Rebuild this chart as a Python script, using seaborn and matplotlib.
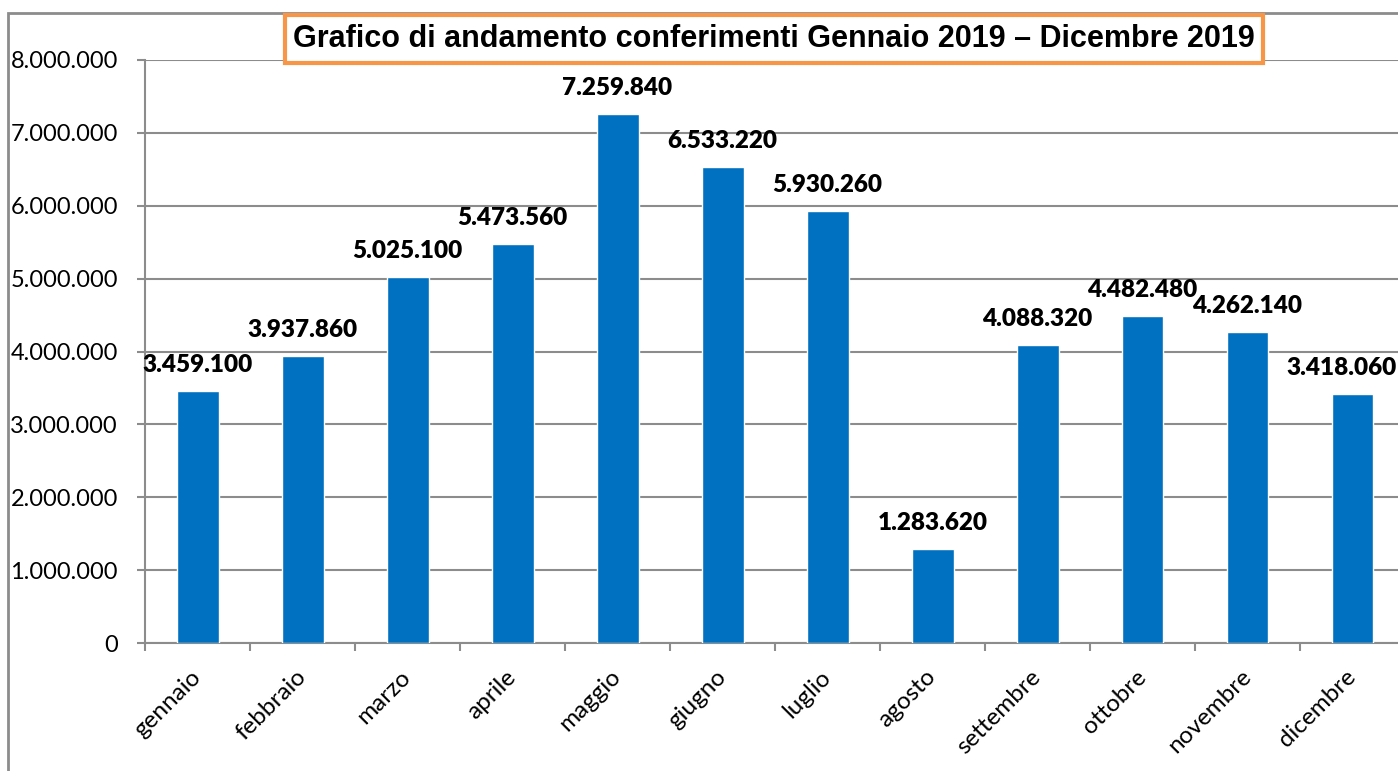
import matplotlib
matplotlib.use("Agg")
import matplotlib.pyplot as plt
import seaborn as sns
import pandas as pd
from matplotlib.patches import Rectangle
from matplotlib.ticker import FuncFormatter, FixedLocator

months = ["gennaio", "febbraio", "marzo", "aprile", "maggio", "giugno", "luglio",
          "agosto", "settembre", "ottobre", "novembre", "dicembre"]
values = [3459100, 3937860, 5025100, 5473560, 7259840, 6533220, 5930260,
          1283620, 4088320, 4482480, 4262140, 3418060]
yticks = [0, 1000000, 2000000, 3000000, 4000000, 5000000, 6000000, 7000000, 8000000]
title = "Grafico di andamento conferimenti Gennaio 2019 – Dicembre 2019"

def itfmt(v):
    return f"{int(round(v)):,}".replace(",", ".")

sns.set_theme(style="white")
plt.rcParams["font.family"] = ["Lato", "DejaVu Sans"]

W, H = 1398, 771
fig = plt.figure(figsize=(W / 100, H / 100), dpi=100)
left, right = 145 / W, 1405 / W
top, bottom = 1 - 60 / H, 1 - 643 / H
ax = fig.add_axes([left, bottom, right - left, top - bottom])

df = pd.DataFrame({"mese": months, "valore": values})
sns.barplot(data=df, x="mese", y="valore", color="#0070C0", width=0.40,
            saturation=1, ax=ax, zorder=3)

ax.set_xlim(-0.5, len(months) - 0.5)
ax.set_ylim(0, 8000000)
ax.set_xlabel("")
ax.set_ylabel("")
ax.yaxis.set_major_locator(FixedLocator(yticks))
ax.yaxis.set_major_formatter(FuncFormatter(lambda v, p: itfmt(v)))
ax.grid(axis="y", color="#8c8c8c", lw=1.5, zorder=0)
ax.grid(axis="x", visible=False)

for s in ["top", "right"]:
    ax.spines[s].set_visible(False)
for s in ["left", "bottom"]:
    ax.spines[s].set_visible(True)
    ax.spines[s].set_color("#8c8c8c")
    ax.spines[s].set_linewidth(1.5)

ax.tick_params(axis="y", which="major", left=True, length=6, width=1.5, color="#8c8c8c",
               pad=13.5, labelsize=17, labelcolor="black", direction="out")
ax.set_xticks(range(len(months)))
ax.set_xticklabels(months, rotation=45, ha="right", va="center", rotation_mode="anchor")
ax.set_xticks([i - 0.5 for i in range(len(months) + 1)], minor=True)
ax.tick_params(axis="x", which="major", bottom=False, length=0, pad=22,
               labelsize=17.5, labelcolor="black")
ax.tick_params(axis="x", which="minor", bottom=True, length=6, width=1.5,
               color="#8c8c8c", direction="out")

texts = ax.bar_label(ax.containers[0], labels=[itfmt(v) for v in values], padding=11,
                     fontsize=17.5, fontweight="heavy", color="black", zorder=5)
texts[-1].xyann = (-8, 11)

# outer chart frame
fig.add_artist(Rectangle((8 / W, -0.05), 1.2, (1 - 13 / H) + 0.05,
                         transform=fig.transFigure, fill=False,
                         ec="#8c8c8c", lw=2, zorder=0))

fig.text(774 / W, 1 - 39 / H, title, ha="center", va="center",
         family=["Liberation Sans Narrow", "Liberation Sans", "DejaVu Sans"],
         fontsize=22, fontweight="bold", color="black", zorder=10,
         bbox=dict(boxstyle="square,pad=0.28", fc="white", ec="#F79646", lw=3))

fig.savefig("out.png", dpi=100)
